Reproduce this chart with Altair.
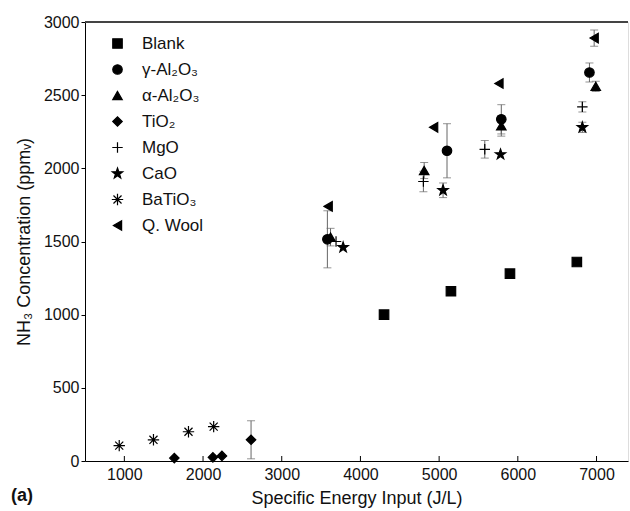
import altair as alt
import pandas as pd

series_names = ["Blank", "γ-Al₂O₃", "α-Al₂O₃", "TiO₂", "MgO", "CaO", "BaTiO₃", "Q. Wool"]

blank_x = [4300, 5150, 5900, 6750]
blank_y = [1000, 1160, 1280, 1360]
blank_err = [0, 0, 0, 0]

gamma_x = [3580, 5100, 5790, 6910]
gamma_y = [1515, 2120, 2335, 2655]
gamma_err = [195, 185, 100, 65]

alpha_x = [3620, 4810, 5790, 6990]
alpha_y = [1530, 1985, 2290, 2560]
alpha_err = [60, 55, 70, 35]

tio2_x = [1635, 2125, 2240, 2610]
tio2_y = [20, 25, 35, 145]
tio2_err = [0, 0, 0, 130]

mgo_x = [3690, 4800, 5580, 6820]
mgo_y = [1500, 1910, 2130, 2420]
mgo_err = [0, 70, 60, 35]

cao_x = [3780, 5050, 5780, 6820]
cao_y = [1460, 1850, 2095, 2280]
cao_err = [0, 50, 0, 35]

batio3_x = [935, 1370, 1815, 2135]
batio3_y = [105, 145, 200, 235]
batio3_err = [0, 0, 0, 0]

qwool_x = [3590, 4930, 5760, 6970]
qwool_y = [1740, 2280, 2580, 2890]
qwool_err = [0, 0, 0, 55]

x_ticks = [1000, 2000, 3000, 4000, 5000, 6000, 7000]
y_ticks = [0, 500, 1000, 1500, 2000, 2500, 3000]

groups = [
    (series_names[0], blank_x, blank_y, blank_err),
    (series_names[1], gamma_x, gamma_y, gamma_err),
    (series_names[2], alpha_x, alpha_y, alpha_err),
    (series_names[3], tio2_x, tio2_y, tio2_err),
    (series_names[4], mgo_x, mgo_y, mgo_err),
    (series_names[5], cao_x, cao_y, cao_err),
    (series_names[6], batio3_x, batio3_y, batio3_err),
    (series_names[7], qwool_x, qwool_y, qwool_err),
]
rows = []
for name, xs, ys, es in groups:
    for xv, yv, ev in zip(xs, ys, es):
        rows.append({"series": name, "x": xv, "y": yv, "lo": yv - ev, "hi": yv + ev, "err": ev})
df = pd.DataFrame(rows)
err_df = df[df["err"] > 0]
tick_df = pd.DataFrame({"x": x_ticks})

PLUS = "M-1.1,0L1.1,0M0,-1.1L0,1.1"
STAR = ("M0,-1.15L0.27,-0.37L1.09,-0.36L0.44,0.14L0.68,0.93L0,0.46"
        "L-0.68,0.93L-0.44,0.14L-1.09,-0.36L-0.27,-0.37Z")
ASTER = "M-1.2,0L1.2,0M0,-1.2L0,1.2M-0.85,-0.85L0.85,0.85M-0.85,0.85L0.85,-0.85"
shape_range = ["square", "circle", "triangle-up", "diamond", PLUS, STAR, ASTER, "triangle-left"]
fill_range = ["black", "black", "black", "black", "transparent", "black", "transparent", "black"]
stroke_range = ["black"] * 8

FONT = "Liberation Sans"
W, H = 543, 439
SZ = 90
xscale = alt.Scale(domain=[500, 7400], nice=False, zero=False)
yscale = alt.Scale(domain=[0, 3000], nice=False)
XT = "Specific Energy Input (J/L)"
YT = "NH₃ Concentration (ppmᵥ)"

x_axis = alt.Axis(values=x_ticks, title=XT, tickSize=0, labelPadding=5, labelFontSize=16,
                  titleFontSize=18, titleFontWeight="normal", titlePadding=7, grid=False,
                  domainColor="black", labelColor="#111", titleColor="#111", format="d")
y_axis = alt.Axis(values=y_ticks, title=YT, tickSize=4, labelPadding=2, labelFontSize=16,
                  titleFontSize=18, titleFontWeight="normal", titlePadding=10, grid=False,
                  domainColor="black", tickColor="black", labelColor="#111", titleColor="#111",
                  format="d")

err_rule = alt.Chart(err_df).mark_rule(color="#666", strokeWidth=1).encode(
    x=alt.X("x:Q", scale=xscale, axis=x_axis),
    y=alt.Y("lo:Q", scale=yscale, axis=y_axis),
    y2="hi:Q",
)
cap_lo = alt.Chart(err_df).mark_tick(orient="horizontal", size=8, thickness=1, color="#666").encode(
    x=alt.X("x:Q", scale=xscale, title=XT), y=alt.Y("lo:Q", scale=yscale, title=YT))
cap_hi = alt.Chart(err_df).mark_tick(orient="horizontal", size=8, thickness=1, color="#666").encode(
    x=alt.X("x:Q", scale=xscale, title=XT), y=alt.Y("hi:Q", scale=yscale, title=YT))

leg = alt.Legend(title=None, orient="none", legendX=24, legendY=13,
                 padding=0, rowPadding=8, labelOffset=16,
                 labelFont=FONT, labelFontSize=17, labelColor="#111",
                 symbolSize=SZ, symbolStrokeWidth=1.2, symbolOpacity=1)

points = alt.Chart(df).mark_point(strokeWidth=1.2, size=SZ, opacity=1, fillOpacity=1).encode(
    x=alt.X("x:Q", scale=xscale, title=XT),
    y=alt.Y("y:Q", scale=yscale, title=YT),
    shape=alt.Shape("series:N", scale=alt.Scale(domain=series_names, range=shape_range), legend=leg),
    fill=alt.Fill("series:N", scale=alt.Scale(domain=series_names, range=fill_range), legend=leg),
    stroke=alt.Stroke("series:N", scale=alt.Scale(domain=series_names, range=stroke_range), legend=leg),
)

inner_ticks = alt.Chart(tick_df).mark_rule(color="black", strokeWidth=1).encode(
    x=alt.X("x:Q", scale=xscale, title=XT), y=alt.value(H), y2=alt.value(H - 5))

top_border = alt.Chart(tick_df).mark_rule(color="#444", strokeWidth=1.5).encode(
    x=alt.value(0), x2=alt.value(W), y=alt.value(0))

label_a = alt.Chart(pd.DataFrame({"t": ["(a)"]})).mark_text(
    font=FONT, fontSize=18, fontWeight="bold", align="left", baseline="alphabetic", color="#111"
).encode(text="t:N", x=alt.value(-74), y=alt.value(479))

chart = alt.layer(err_rule, cap_lo, cap_hi, points, inner_ticks, top_border, label_a).properties(
    width=W, height=H, autosize="none",
    padding={"left": 85, "top": 22, "right": 2, "bottom": 50},
).configure_view(stroke=None).configure(font=FONT)

chart.save("out.html", embed_options={"renderer": "svg", "actions": False})
